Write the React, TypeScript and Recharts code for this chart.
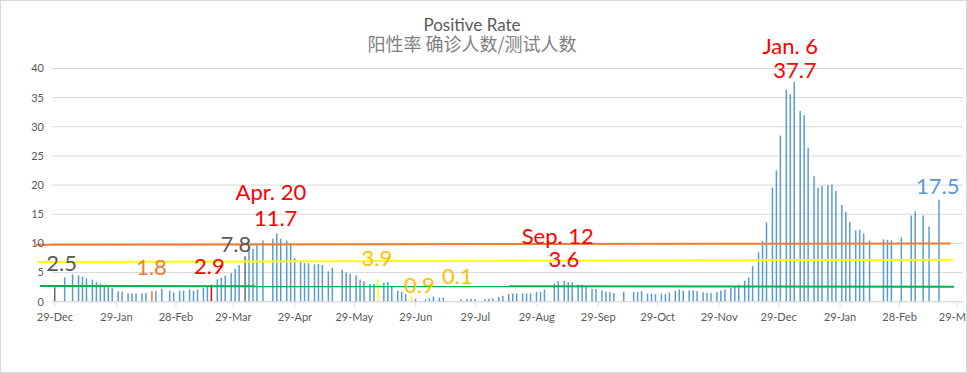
import { BarChart, Bar, XAxis, YAxis, CartesianGrid, Cell, ReferenceLine, ReferenceDot } from 'recharts'

// day offsets from the first 29-Dec, and the positive rate (%) on that day
const days = [
  0, 5, 9, 12, 14, 16, 19, 21, 23, 25,
  27, 29, 32, 34, 37, 39, 41, 44, 46, 49,
  51, 54, 58, 60, 63, 65, 68, 70, 72, 75,
  77, 79, 82, 84, 86, 89, 91, 93, 96, 98,
  100, 102, 105, 110, 112, 114, 117, 119, 121, 124,
  126, 128, 131, 133, 135, 138, 140, 145, 147, 149,
  152, 154, 156, 159, 161, 163, 166, 168, 170, 173,
  175, 177, 180, 182, 187, 189, 191, 194, 196, 198,
  201, 205, 208, 210, 212, 217, 219, 221, 224, 226,
  229, 231, 233, 236, 238, 240, 243, 245, 247, 252,
  254, 257, 259, 261, 264, 266, 268, 271, 273, 276,
  278, 280, 282, 287, 292, 294, 296, 299, 301, 303,
  306, 308, 310, 313, 315, 317, 320, 322, 324, 327,
  329, 331, 334, 336, 338, 341, 343, 345, 348, 350,
  352, 355, 357, 359, 362, 364, 366, 369, 371, 373,
  376, 378, 380, 383, 385, 387, 390, 392, 394, 397,
  399, 401, 404, 406, 408, 411, 418, 420, 422, 427,
  432, 434, 438, 441, 446,
]

const rates = [
  2.5, 4.2, 4.7, 4.5, 4.3, 4.0, 3.8, 3.4, 3.1, 2.9,
  2.5, 2.3, 1.8, 1.7, 1.4, 1.4, 1.4, 1.4, 1.5, 1.8,
  1.8, 2.2, 1.9, 1.6, 1.9, 1.9, 2.1, 1.9, 2.1, 2.4,
  2.6, 2.9, 3.8, 4.1, 4.5, 4.9, 5.6, 6.3, 7.8, 8.8,
  9.1, 9.7, 10.5, 10.8, 11.7, 10.8, 10.5, 9.7, 7.5, 6.9,
  6.6, 6.6, 6.4, 6.5, 6.3, 5.2, 5.8, 5.5, 5.0, 4.8,
  4.5, 3.8, 3.5, 3.1, 3.1, 3.9, 3.2, 3.4, 2.7, 1.9,
  1.7, 1.3, 0.9, 0.5, 0.4, 0.6, 0.9, 0.7, 0.7, 0.1,
  0.1, 0.4, 0.5, 0.5, 0.4, 0.4, 0.5, 0.6, 0.8, 1.0,
  1.3, 1.4, 1.4, 1.4, 1.4, 1.4, 1.7, 1.7, 2.1, 3.1,
  3.5, 3.6, 3.4, 3.3, 2.9, 2.9, 2.5, 2.2, 2.2, 1.9,
  1.7, 1.6, 1.5, 1.7, 1.7, 1.7, 1.8, 1.4, 1.4, 1.3,
  1.4, 1.3, 1.6, 1.9, 2.1, 1.9, 1.9, 1.9, 1.8, 1.6,
  1.5, 1.5, 1.7, 1.9, 2.1, 2.4, 2.6, 2.9, 3.6, 4.2,
  6.1, 8.5, 10.4, 13.6, 19.6, 22.5, 28.5, 36.4, 35.6, 37.7,
  32.7, 32.0, 26.4, 21.5, 19.6, 19.9, 20.0, 20.1, 19.0, 16.6,
  15.4, 13.7, 12.2, 12.3, 11.7, 10.5, 10.7, 10.6, 10.5, 11.0,
  14.8, 15.5, 14.8, 12.9, 17.5,
]

const tickDays = [0, 31, 61, 90, 121, 151, 182, 212, 243, 274, 304, 335, 365, 396, 426, 455]
const tickLabels = [
  '29-Dec', '29-Jan', '28-Feb', '29-Mar', '29-Apr', '29-May', '29-Jun', '29-Jul',
  '29-Aug', '29-Sep', '29-Oct', '29-Nov', '29-Dec', '29-Jan', '28-Feb', '29-Mar',
]
const yTicks = [0, 5, 10, 15, 20, 25, 30, 35, 40]

// level lines: [day, rate] at each end
const levels = [
  { from: [-9.6, 9.75], to: [451.8, 10.0], color: '#ED7D31' },
  { from: [-8.6, 6.8], to: [453, 7.2], color: '#FFFF00' },
  { from: [-7.6, 2.7], to: [453.5, 2.57], color: '#00B050' },
]

const BLUE = '#5B9BD5'
const highlightColors: Record<number, string> = {
  0: '#6B6B6B', 49: '#ED7D31', 79: '#FF0000', 96: '#6B6B6B',
  163: '#FFFF00', 180: '#FFFF00', 198: '#FFFF00',
}

const notes = [
  { text: '2.5', day: 3.4, value: 6.6, color: '#595959' },
  { text: '1.8', day: 48.7, value: 5.9, color: '#ED7D31' },
  { text: '2.9', day: 77.9, value: 6.05, color: '#FF0000' },
  { text: '7.8', day: 91.3, value: 9.9, color: '#595959' },
  { text: 'Apr. 20', day: 108.9, value: 18.8, color: '#FF0000' },
  { text: '11.7', day: 111.3, value: 14.4, color: '#FF0000' },
  { text: '3.9', day: 162.4, value: 7.45, color: '#FFC000' },
  { text: '0.9', day: 183.8, value: 2.9, color: '#FFC000' },
  { text: '0.1', day: 203.0, value: 4.4, color: '#FFC000' },
  { text: 'Sep. 12', day: 253.6, value: 11.25, color: '#FF0000' },
  { text: '3.6', day: 256.7, value: 7.25, color: '#FF0000' },
  { text: 'Jan. 6', day: 370.9, value: 43.8, color: '#FF0000' },
  { text: '37.7', day: 373.2, value: 39.65, color: '#FF0000' },
  { text: '17.5', day: 445.3, value: 19.8, color: BLUE },
]

const data = days.map((d, i) => ({ day: d, rate: rates[i] }))

export default function App() {
  return (
    <div style={{ position: 'absolute', left: 0, top: 0, width: 967, height: 373, background: '#fff' }}>
      <BarChart
        width={967}
        height={373}
        data={data}
        margin={{ top: 68.5, right: 4, left: 12, bottom: 41.3 }}
      >
        <CartesianGrid vertical={false} stroke="#D9D9D9" />
        <XAxis
          dataKey="day"
          type="number"
          domain={[-1.5, 458]}
          allowDataOverflow
          ticks={tickDays}
          interval={0}
          tickFormatter={(v) => tickLabels[tickDays.indexOf(v)]}
          height={30}
          stroke="#D9D9D9"
          tickSize={5}
          tickMargin={6}
          tick={{ fill: '#595959', fontSize: 11, fontFamily: 'Lato' }}
        />
        <YAxis
          type="number"
          domain={[0, 40]}
          ticks={yTicks}
          width={40}
          axisLine={false}
          tickLine={false}
          tick={{ fill: '#595959', fontSize: 11, fontFamily: 'Lato' }}
        />
        {levels.map((l) => (
          <ReferenceLine
            key={l.color}
            segment={[{ x: l.from[0], y: l.from[1] }, { x: l.to[0], y: l.to[1] }]}
            stroke={l.color}
            strokeWidth={2}
            ifOverflow="visible"
          />
        ))}
        <Bar dataKey="rate" barSize={1.5} fill={BLUE} isAnimationActive={false}>
          {data.map((d) => (
            <Cell key={d.day} fill={highlightColors[d.day] ?? BLUE} />
          ))}
        </Bar>
        {notes.map((n) => (
          <ReferenceDot
            key={n.text + n.day}
            x={n.day}
            y={n.value}
            r={0}
            fill="none"
            stroke="none"
            ifOverflow="visible"
            label={{ value: n.text, position: 'center', fill: n.color, fontSize: 22, fontFamily: 'Lato' }}
          />
        ))}
      </BarChart>
      <svg width={967} height={373} style={{ position: 'absolute', left: 0, top: 0, pointerEvents: 'none' }}>
        <rect x={0.5} y={0.5} width={966} height={372} fill="none" stroke="#D9D9D9" />
        <text x={472} y={31} textAnchor="middle" fill="#595959" fontSize={17} fontFamily="Lato">
          Positive Rate
        </text>
        <text x={472} y={51} textAnchor="middle" fill="#7F7F7F" fontSize={18} fontFamily="'Noto Sans CJK SC'">
          阳性率 确诊人数/测试人数
        </text>
      </svg>
    </div>
  )
}
